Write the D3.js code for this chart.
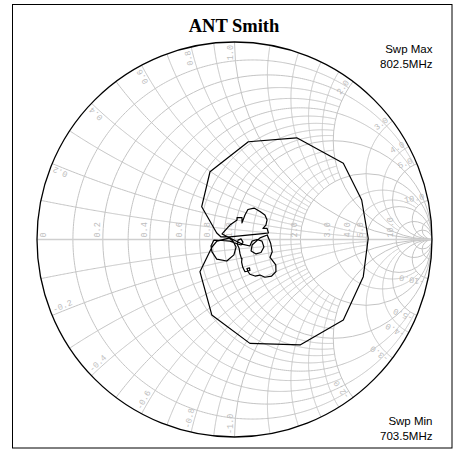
<!DOCTYPE html>
<html><head><meta charset="utf-8">
<script src="https://cdn.jsdelivr.net/npm/d3@7"></script>
<style>body{margin:0;background:#fff}svg{display:block}</style>
</head><body>
<svg id="c" width="453" height="449"></svg>
<script>
// ---- data ----
const chartTitle = "ANT Smith";
const sweepMaxLabels = ["Swp Max", "802.5MHz"];
const sweepMinLabels = ["Swp Min", "703.5MHz"];

// reflection coefficient of the trace (703.5 -> 802.5 MHz)
const gammaRe = [0.036,0.028,0.023,0.013,0.018,0.033,0.043,0.033,0.010,-0.023,
  -0.063,-0.104,-0.119,-0.114,-0.090,-0.039,-0.003,0.008,-0.008,-0.033,
  -0.063,-0.023,0.013,0.013,0.038,0.038,0.053,0.068,0.099,0.129,
  0.154,0.165,0.159,0.144,0.165,0.172,0.144,0.078,0.028,-0.023,
  -0.068,-0.090,-0.166,-0.124,0.070,0.315,0.551,0.644,0.677,0.652,
  0.551,0.332,0.078,-0.115,-0.175,-0.114,-0.089,-0.023,0.038,0.078,
  0.089,0.114,0.139,0.149,0.134,0.109,0.084,0.089,0.129,0.166,
  0.183,0.191,0.180,0.209,0.210,0.188,0.154,0.129,0.104,0.078,
  0.068,0.063,0.076,0.078,0.053,0.042,0.036,0.038];
const gammaIm = [-0.099,-0.073,-0.043,-0.023,-0.003,0.003,-0.013,-0.028,-0.020,-0.008,
  -0.005,-0.003,-0.033,-0.063,-0.099,-0.109,-0.078,-0.038,-0.008,0.013,
  0.028,0.073,0.099,0.111,0.111,0.084,0.124,0.152,0.159,0.142,
  0.124,0.099,0.073,0.056,0.056,0.033,0.030,0.023,0.018,0.013,
  0.013,0.033,0.166,0.343,0.495,0.515,0.386,0.200,0.006,-0.188,
  -0.408,-0.534,-0.526,-0.382,-0.163,-0.038,-0.008,0.008,-0.023,-0.033,
  -0.008,0.000,-0.008,-0.038,-0.066,-0.073,-0.058,-0.028,0.008,0.023,
  -0.019,-0.062,-0.090,-0.129,-0.163,-0.185,-0.191,-0.180,-0.185,-0.176,
  -0.162,-0.147,-0.144,-0.157,-0.163,-0.141,-0.114,-0.094];

// grid values and how far each arc runs (Infinity = complete)
const gridValues = [0.1,0.2,0.3,0.4,0.5,0.6,0.7,0.8,0.9,1.0,1.2,1.4,1.6,1.8,2.0,3,4,5,10,20];
const gridLimits = [2,5,2,2,5,2,2,2,2,Infinity,2,2,2,2,Infinity,10,10,Infinity,Infinity,Infinity];

const axisLabels = ["0","0.2","0.4","0.6","0.8","1.0","2.0","3.0","4.0","5.0","10.0"];
const axisLabelValues = [0,0.2,0.4,0.6,0.8,1,2,3,4,5,10];
const rimLabels = ["0.2","0.4","0.6","0.8","1.0","2.0","3.0","4.0","5.0","10.0"];
const rimLabelValues = [0.2,0.4,0.6,0.8,1,2,3,4,5,10];

// ---- drawing ----
const cx = 234.5, cy = 239.5, R = 197.5;
const svg = d3.select("#c");
const gx = d3.scaleLinear().domain([-1, 1]).range([cx - R, cx + R]);
const gy = d3.scaleLinear().domain([-1, 1]).range([cy + R, cy - R]);
const toG = (r, x) => { const d = (r + 1) * (r + 1) + x * x; return [(r * r + x * x - 1) / d, 2 * x / d]; };
const line = d3.line().x(d => gx(d[0])).y(d => gy(d[1]));

svg.append("rect").attr("x", 12.5).attr("y", 4.5).attr("width", 439.5).attr("height", 443.5)
  .attr("fill", "#fff").attr("stroke", "#000").attr("stroke-width", 1);

svg.append("defs").append("clipPath").attr("id", "uc")
  .append("circle").attr("cx", gx(0)).attr("cy", gy(0)).attr("r", gx(1) - gx(0));

const grid = svg.append("g").attr("clip-path", "url(#uc)")
  .attr("fill", "none").attr("stroke", "#c4c4c4").attr("stroke-width", 1);

const N = 500;
gridValues.forEach((v, i) => {
  const lim = gridLimits[i];
  // resistance circle
  if (!isFinite(lim)) {
    grid.append("circle").attr("cx", gx(v / (v + 1))).attr("cy", gy(0))
      .attr("r", gx(1 / (v + 1)) - gx(0));
  } else {
    const pts = d3.range(N + 1).map(k => toG(v, -lim + 2 * lim * k / N));
    grid.append("path").attr("d", line(pts));
  }
  // reactance arcs (+ and -)
  [1, -1].forEach(s => {
    if (!isFinite(lim)) {
      grid.append("circle").attr("cx", gx(1)).attr("cy", gy(s / v))
        .attr("r", gx(1 / v) - gx(0));
    } else {
      const pts = d3.range(N + 1).map(k => toG(lim * k / N, s * v));
      grid.append("path").attr("d", line(pts));
    }
  });
});
// real axis
grid.append("line").attr("x1", gx(-1)).attr("x2", gx(1)).attr("y1", gy(0)).attr("y2", gy(0))
  .attr("stroke", "#cfcfcf").attr("stroke-width", 1.6);

// labels
const lab = svg.append("g").attr("font-family", "'Liberation Mono','DejaVu Sans Mono',monospace")
  .attr("font-size", 8.5).attr("fill", "#bdbdbd");
axisLabels.forEach((t, i) => {
  const v = axisLabelValues[i];
  const px = gx((v - 1) / (v + 1)) + (v === 0 ? 9 : -3);
  lab.append("text").attr("transform", `translate(${px},${gy(0) - 2}) rotate(-90)`)
    .attr("text-anchor", "start").text(t);
});
rimLabels.forEach((t, i) => {
  const v = rimLabelValues[i];
  [1, -1].forEach(s => {
    const g = toG(0, s * v);
    const th = Math.atan2(g[1], g[0]) * 180 / Math.PI;
    const k = 1 - 3 / R;
    const px = gx(g[0] * k), py = gy(g[1] * k);
    const rot = s > 0 ? -th : -(th + 180);
    lab.append("text").attr("transform", `translate(${px},${py}) rotate(${rot})`)
      .attr("y", -2).attr("text-anchor", s > 0 ? "end" : "start")
      .text(s > 0 ? t : "-" + t);
  });
});

// outer circle
svg.append("circle").attr("cx", gx(0)).attr("cy", gy(0)).attr("r", gx(1) - gx(0))
  .attr("fill", "none").attr("stroke", "#000").attr("stroke-width", 1.3);

// trace
const trace = gammaRe.map((d, i) => [d, gammaIm[i]]);
svg.append("path").attr("d", line(trace)).attr("fill", "none")
  .attr("stroke", "#000").attr("stroke-width", 1.2).attr("stroke-linejoin", "round");

// title and sweep labels
svg.append("text").attr("x", 234).attr("y", 32).attr("text-anchor", "middle")
  .attr("font-family", "'Liberation Serif','Times New Roman',serif").attr("font-weight", "bold")
  .attr("font-size", 18.5).attr("fill", "#000").text(chartTitle);
const sw = svg.append("g").attr("font-family", "'Liberation Sans',Arial,sans-serif")
  .attr("font-size", 11.5).attr("fill", "#000").attr("text-anchor", "end");
sweepMaxLabels.forEach((t, i) => sw.append("text").attr("x", 432.5).attr("y", 52.5 + i * 15).text(t));
sweepMinLabels.forEach((t, i) => sw.append("text").attr("x", 432.5).attr("y", 425 + i * 15).text(t));
</script>
</body></html>
